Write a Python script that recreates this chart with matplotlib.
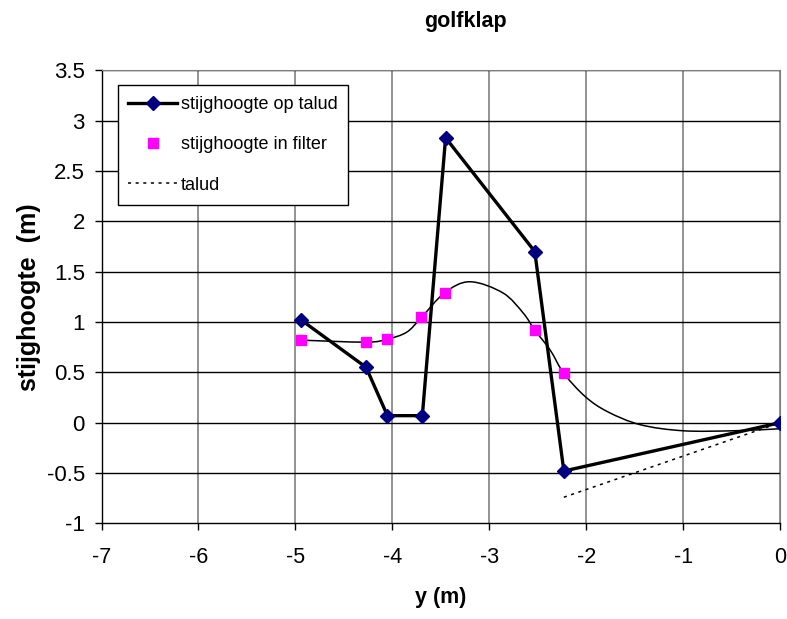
import matplotlib
matplotlib.use("Agg")
import matplotlib.pyplot as plt
import numpy as np
from matplotlib.path import Path
from matplotlib.patches import PathPatch
from matplotlib.lines import Line2D

plt.rcParams['font.family'] = ['Liberation Sans', 'DejaVu Sans']

# Data
talud_op_x = [-4.94, -4.27, -4.05, -3.69, -3.45, -2.53, -2.23, 0.0]
talud_op_y = [1.02, 0.55, 0.07, 0.07, 2.83, 1.70, -0.48, 0.0]

filter_x = [-4.94, -4.27, -4.05, -3.70, -3.46, -2.53, -2.23]
filter_y = [0.82, 0.80, 0.83, 1.045, 1.29, 0.92, 0.49]

curve_x = [-4.94, -4.27, -4.05, -3.85, -3.70, -3.46, -3.20, -2.86, -2.65, -2.53,
           -2.37, -2.23, -2.01, -1.78, -1.44, -1.00, -0.48, 0.0]
curve_y = [0.82, 0.80, 0.83, 0.90, 1.045, 1.29, 1.40, 1.29, 1.09, 0.92,
           0.72, 0.49, 0.26, 0.11, -0.02, -0.08, -0.08, -0.06]

talud_x = [-2.23, 0.0]
talud_y = [-0.74, 0.0]

x_ticks = [-7, -6, -5, -4, -3, -2, -1, 0]
y_ticks = [-1, -0.5, 0, 0.5, 1, 1.5, 2, 2.5, 3, 3.5]

W, H = 787, 619
fig = plt.figure(figsize=(W / 100, H / 100), dpi=100)
ax = fig.add_axes([101.5 / W, (H - 523.4) / H, (780 - 101.5) / W, (523.4 - 70.3) / H])

ax.set_xlim(-7, 0)
ax.set_ylim(-1, 3.5)
ax.set_xticks(x_ticks)
ax.set_yticks(y_ticks)
ax.set_xticklabels([f"{v:g}" for v in x_ticks])
ax.set_yticklabels([f"{v:g}" for v in y_ticks])

for v in x_ticks[1:]:
    ax.axvline(v, color='#808080', lw=1.2, zorder=0)
for v in y_ticks[1:]:
    ax.axhline(v, color='black', lw=1.0, zorder=0)

# smooth curve (Catmull-Rom bezier through the read points)
pts = np.column_stack([curve_x, curve_y])
verts = [tuple(pts[0])]
codes = [Path.MOVETO]
n = len(pts)
for i in range(n - 1):
    p0 = pts[i - 1] if i > 0 else pts[i]
    p1 = pts[i]
    p2 = pts[i + 1]
    p3 = pts[i + 2] if i + 2 < n else pts[i + 1]
    c1 = p1 + (p2 - p0) / 6.0
    c2 = p2 - (p3 - p1) / 6.0
    verts += [tuple(c1), tuple(c2), tuple(p2)]
    codes += [Path.CURVE4] * 3
ax.add_patch(PathPatch(Path(verts, codes), facecolor='none', edgecolor='black', lw=1.1, zorder=2))

ax.plot(talud_x, talud_y, color='black', lw=1.1, linestyle=(0, (2, 3)), zorder=2)
ax.plot(talud_op_x, talud_op_y, color='black', lw=2.4, marker='D', markersize=7,
        markerfacecolor='#000080', markeredgecolor='#000080', zorder=4)
ax.plot(filter_x, filter_y, linestyle='none', marker='s', markersize=7.5,
        markerfacecolor='#FF00FF', markeredgecolor='#FF00FF', zorder=5)

for s in ['top', 'right']:
    ax.spines[s].set_color('#808080')
for s in ['left', 'bottom']:
    ax.spines[s].set_color('black')
    ax.spines[s].set_linewidth(1.0)

ax.tick_params(axis='both', direction='out', length=5, width=1)
ax.tick_params(axis='y', labelsize=16, pad=7)
ax.tick_params(axis='x', labelsize=15.5, pad=12)

ax.set_xlabel('y (m)', fontsize=15.5, fontweight='bold', labelpad=14)
ax.set_ylabel('stijghoogte  (m)', fontsize=18, fontweight='bold', labelpad=4)
fig.text(465 / W, 1 - 27 / H, 'golfklap', ha='center', va='baseline',
         fontsize=15.5, fontweight='bold')

handles = [
    Line2D([], [], color='black', lw=2.4, marker='D', markersize=7,
           markerfacecolor='#000080', markeredgecolor='#000080'),
    Line2D([], [], linestyle='none', marker='s', markersize=7.5,
           markerfacecolor='#FF00FF', markeredgecolor='#FF00FF'),
    Line2D([], [], color='black', lw=1.1, linestyle=(0, (2, 3))),
]
labels = ['stijghoogte op talud', 'stijghoogte in filter', 'talud']
leg = ax.legend(handles, labels, loc='upper left',
                bbox_to_anchor=((117.5 - 101.5) / 678.5, (523.4 - 85) / 453.1),
                fontsize=13, frameon=True, fancybox=False, shadow=False,
                edgecolor='black', facecolor='white', framealpha=1,
                handlelength=2.7, handletextpad=0.2, labelspacing=1.3,
                borderpad=0.6, borderaxespad=0)
leg.get_frame().set_linewidth(1.0)
leg.set_zorder(10)

fig.savefig('out.png', dpi=100)
